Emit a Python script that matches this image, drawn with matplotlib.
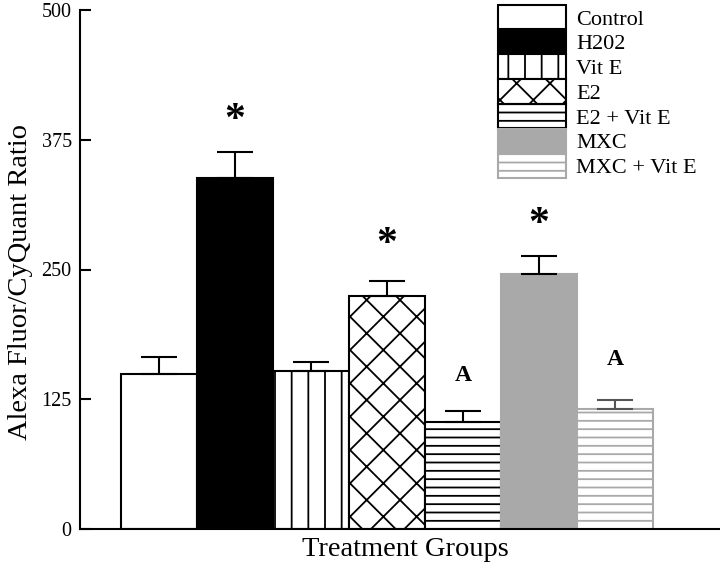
import numpy as np
import matplotlib.pyplot as plt

plt.rcParams['font.family'] = ['Liberation Serif', 'DejaVu Serif']
plt.rcParams['hatch.linewidth'] = 1.3

groups = ["Control", "H202", "Vit E", "E2", "E2 + Vit E", "MXC", "MXC + Vit E"]
means = [149, 338, 152, 224, 103, 246, 116]
errors = [17, 25, 9, 15, 11, 17, 8]
marks = ["", "*", "", "*", "A", "*", "A"]
mark_y = [0, 393, 0, 274, 148, 293, 163]

fills = ["white", "black", "white", "white", "white", "#a9a9a9", "white"]
edges = ["black", "black", "black", "black", "black", "#a9a9a9", "#a9a9a9"]
hatches = [None, None, "|", "x", "--", None, "--"]
err_colors = ["black", "black", "black", "black", "black", "black", "#555555"]

fig = plt.figure(figsize=(7.2, 5.64), dpi=100)
ax = fig.add_axes([80 / 720, 35 / 564, 640 / 720, 519 / 564])

x = np.arange(len(groups))
for i in range(len(groups)):
    ax.bar(x[i], means[i], width=1.0, color=fills[i], edgecolor=edges[i],
           hatch=hatches[i], linewidth=1.5, label=groups[i], zorder=2)
    ax.errorbar(x[i], means[i], yerr=[[0], [errors[i]]], fmt="none",
                ecolor=err_colors[i], elinewidth=1.5, capsize=13,
                capthick=1.5, zorder=3)
    if marks[i] == "*":
        ax.text(x[i], mark_y[i], "*", ha="center", va="center",
                fontsize=30, fontweight="bold")
    elif marks[i]:
        ax.text(x[i], mark_y[i], marks[i], ha="center", va="center",
                fontsize=17, fontweight="bold")

ax.set_xlim(-1.04, 7.38)
ax.set_ylim(0, 500)
ax.set_yticks([0, 125, 250, 375, 500])
ax.set_xticks([])
ax.spines["top"].set_visible(False)
ax.spines["right"].set_visible(False)
ax.spines["left"].set_linewidth(1.5)
ax.spines["bottom"].set_linewidth(1.5)
ax.tick_params(axis="y", direction="in", length=8, width=1.5,
               labelsize=14.5, pad=6)
ax.set_ylabel("Alexa Fluor/CyQuant Ratio", fontsize=20.5)
ax.yaxis.set_label_coords(-0.074, 0.476)
ax.set_xlabel("Treatment Groups", fontsize=20.5)
ax.xaxis.set_label_coords(0.509, -0.016)
ax.xaxis.label.set_va("top")

leg = ax.legend(loc="upper left", bbox_to_anchor=(0.653, 1.01),
                frameon=False, fontsize=16, handlelength=3.06,
                handleheight=1.33, labelspacing=0.0, handletextpad=0.45,
                borderpad=0, borderaxespad=0)

fig.savefig("out.png", dpi=100)
